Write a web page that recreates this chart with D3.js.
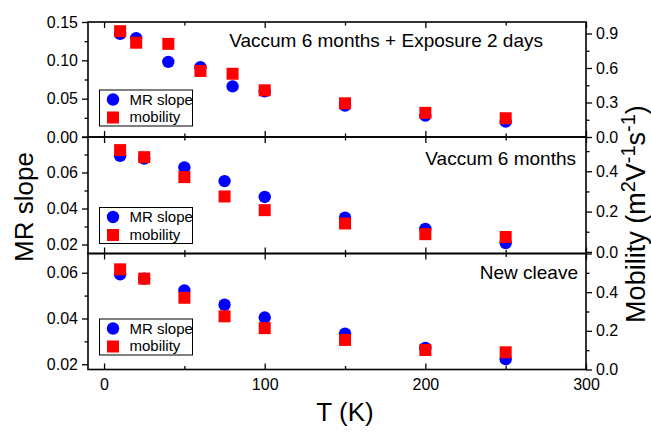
<!DOCTYPE html>
<html><head><meta charset="utf-8">
<script src="https://cdn.jsdelivr.net/npm/d3@7"></script>
<style>
body{margin:0;background:#fff;}
svg text{font-family:"Liberation Sans",Arial,sans-serif;fill:#000;}
</style></head>
<body><svg id="c" width="651" height="433"></svg>
<script>
// ---- data ----
const panelTitles = ["Vaccum 6 months + Exposure 2 days", "Vaccum 6 months", "New cleave"];
const tTop = [10, 20, 40, 60, 80, 100, 150, 200, 250];
const mrTop = [0.1345, 0.129, 0.098, 0.091, 0.066, 0.0595, 0.041, 0.028, 0.020];
const mobTop = [0.92, 0.82, 0.81, 0.574, 0.55, 0.406, 0.293, 0.21, 0.163];
const tMid = [10, 25, 50, 75, 100, 150, 200, 250];
const mrMid = [0.0692, 0.0677, 0.0628, 0.0552, 0.0464, 0.0349, 0.0287, 0.0208];
const mobMid = [0.505, 0.47, 0.371, 0.275, 0.207, 0.141, 0.088, 0.074];
const tBot = [10, 25, 50, 75, 100, 150, 200, 250];
const mrBot = [0.0593, 0.0574, 0.0523, 0.046, 0.0404, 0.0334, 0.0271, 0.0222];
const mobBot = [0.518, 0.47, 0.371, 0.275, 0.214, 0.153, 0.101, 0.089];
const xTicks = [0, 100, 200, 300];
const xMinor = [50, 150, 250];
const leftTicks = [[0, 0.05, 0.10, 0.15], [0.02, 0.04, 0.06, 0.08], [0.02, 0.04, 0.06]];
const leftMinor = [[0.025, 0.075, 0.125], [0.03, 0.05, 0.07], [0.03, 0.05]];
const rightTicks = [[0, 0.3, 0.6, 0.9], [0, 0.2, 0.4], [0, 0.2, 0.4, 0.6]];
const rightMinor = [[0.15, 0.45, 0.75], [0.1, 0.3, 0.5], [0.1, 0.3, 0.5]];
const leftDomains = [[0, 0.15], [0.015, 0.0797], [0.0177, 0.0684]];
const rightDomains = [[0, 1.0], [-0.008, 0.57], [0, 0.6]];
const legendLabels = ["MR slope", "mobility"];

const panels = [
  {title: panelTitles[0], t: tTop, mr: mrTop, mob: mobTop},
  {title: panelTitles[1], t: tMid, mr: mrMid, mob: mobMid},
  {title: panelTitles[2], t: tBot, mr: mrBot, mob: mobBot}
];

// ---- layout ----
const svg = d3.select("#c");
const X0 = 88, X1 = 586;
const bands = [[22, 137], [137, 253.5], [253.5, 369.5]];
const x = d3.scaleLinear().domain([-10, 300]).range([X0, X1]);
const fmtL = d3.format(".2f");
const fmtR = d3.format(".1f");

panels.forEach((p, i) => {
  const [y0, y1] = bands[i];
  const yl = d3.scaleLinear().domain(leftDomains[i]).range([y1, y0]);
  const yr = d3.scaleLinear().domain(rightDomains[i]).range([y1, y0]);
  const g = svg.append("g");

  const la = g.append("g").attr("transform", `translate(${X0},0)`)
    .call(d3.axisLeft(yl).tickValues(leftTicks[i]).tickSize(6).tickPadding(4)
      .tickFormat(v => (i > 0 && Math.abs(yl(v) - y0) < 3) ? "" : fmtL(v)));
  const lm = g.append("g").attr("transform", `translate(${X0},0)`)
    .call(d3.axisLeft(yl).tickValues(leftMinor[i]).tickSize(3.5).tickFormat(""));
  const ra = g.append("g").attr("transform", `translate(${X1},0)`)
    .call(d3.axisRight(yr).tickValues(rightTicks[i]).tickSize(6).tickPadding(4)
      .tickFormat(v => (i > 0 && Math.abs(yr(v) - y0) < 3) ? "" : fmtR(v)));
  const rm = g.append("g").attr("transform", `translate(${X1},0)`)
    .call(d3.axisRight(yr).tickValues(rightMinor[i]).tickSize(3.5).tickFormat(""));
  const ta = g.append("g").attr("transform", `translate(0,${y0})`)
    .call(d3.axisTop(x).tickValues(xTicks).tickSize(-6).tickFormat(""));
  const tm = g.append("g").attr("transform", `translate(0,${y0})`)
    .call(d3.axisTop(x).tickValues(xMinor).tickSize(-3.5).tickFormat(""));
  const ba = g.append("g").attr("transform", `translate(0,${y1})`)
    .call(d3.axisBottom(x).tickValues(xTicks).tickSize(-6).tickPadding(9)
      .tickFormat(i === 2 ? d3.format("d") : ""));
  const bm = g.append("g").attr("transform", `translate(0,${y1})`)
    .call(d3.axisBottom(x).tickValues(xMinor).tickSize(-3.5).tickFormat(""));

  [la, lm, ra, rm, ta, tm, ba, bm].forEach(a => {
    a.select(".domain").remove();
    a.selectAll("line").attr("stroke", "#000").attr("stroke-width", 1.3);
    a.selectAll("text").style("font-size", "16px").attr("fill", "#000");
  });

  g.append("rect").attr("x", X0).attr("y", y0).attr("width", X1 - X0).attr("height", y1 - y0)
    .attr("fill", "none").attr("stroke", "#000").attr("stroke-width", 1.6);

  const pts = p.t.map((t, k) => ({t, mr: p.mr[k], mob: p.mob[k]}));
  g.selectAll("circle.mr").data(pts).join("circle").attr("class", "mr")
    .attr("cx", d => x(d.t)).attr("cy", d => yl(d.mr)).attr("r", 6.2).attr("fill", "#0000ff");
  g.selectAll("rect.mob").data(pts).join("rect").attr("class", "mob")
    .attr("x", d => x(d.t) - 6).attr("y", d => yr(d.mob) - 6).attr("width", 12).attr("height", 12)
    .attr("fill", "#ff0000");

  const tx = [543, 576, 578][i];
  const ty = [47, 165, 279][i];
  g.append("text").attr("x", tx).attr("y", ty).attr("text-anchor", "end")
    .style("font-size", "19px").text(p.title);

  const ly = [90, 207.5, 319][i];
  const lg = g.append("g").attr("transform", `translate(99.5,${ly})`);
  lg.append("rect").attr("width", 93).attr("height", 36).attr("fill", "#fff")
    .attr("stroke", "#000").attr("stroke-width", 1);
  lg.append("circle").attr("cx", 13.5).attr("cy", 9.5).attr("r", 6.2).attr("fill", "#0000ff");
  lg.append("rect").attr("x", 7.5).attr("y", 21.5).attr("width", 12).attr("height", 12).attr("fill", "#ff0000");
  lg.append("text").attr("x", 30).attr("y", 14.5).style("font-size", "15px").text(legendLabels[0]);
  lg.append("text").attr("x", 30).attr("y", 32).style("font-size", "15px").text(legendLabels[1]);
});

// axis titles
svg.append("text").attr("transform", "translate(33,207) rotate(-90)").attr("text-anchor", "middle")
  .style("font-size", "26px").text("MR slope");
svg.append("text").attr("x", 345).attr("y", 421).attr("text-anchor", "middle")
  .style("font-size", "26px").text("T (K)");
const mt = svg.append("text").attr("transform", "translate(645,214) rotate(-90)").attr("text-anchor", "middle")
  .style("font-size", "27px");
mt.append("tspan").text("Mobility (m");
mt.append("tspan").attr("dy", -10).style("font-size", "20px").text("2");
mt.append("tspan").attr("dy", 10).text("V");
mt.append("tspan").attr("dy", -10).style("font-size", "20px").text("-1");
mt.append("tspan").attr("dy", 10).text("s");
mt.append("tspan").attr("dy", -10).style("font-size", "20px").text("-1");
mt.append("tspan").attr("dy", 10).text(")");
</script></body></html>
